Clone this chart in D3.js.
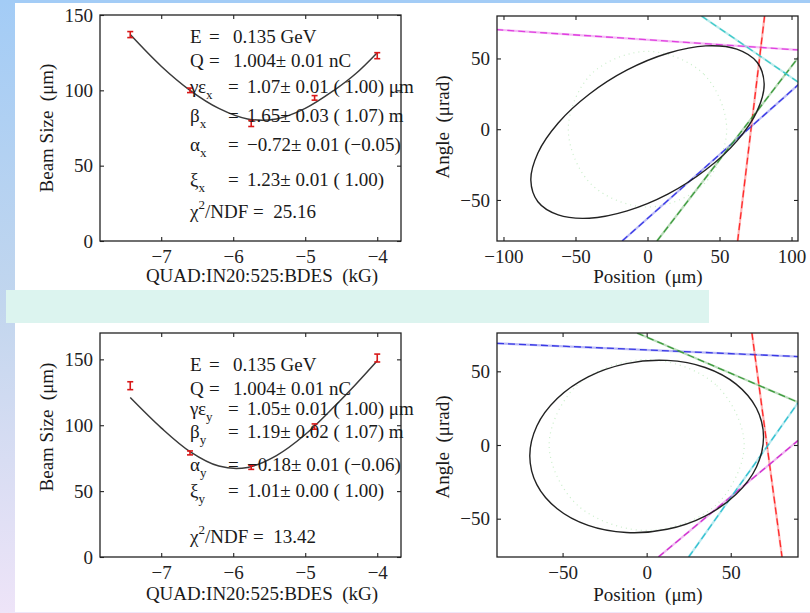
<!DOCTYPE html>
<html>
<head>
<meta charset="utf-8">
<script src="https://cdn.jsdelivr.net/npm/d3@7"></script>
<style>
body { margin: 0; background: #fff; }
svg { display: block; font-family: "Liberation Serif", "DejaVu Serif", serif; }
</style>
</head>
<body>
<svg id="chart" width="810" height="613"></svg>
<script>
// quad scan: beam size vs quad strength
const quadK = [-7.43, -6.6, -5.75, -4.87, -4.0];
const sizeX = [137, 100, 78, 95, 123];
const errX = [2, 1.5, 2, 1.5, 2];
const sizeY = [130, 79, 68, 99, 151];
const errY = [3, 1.5, 1.5, 2, 3];

// fitted curves
const fitK = [-7.43, -7.0, -6.6, -6.2, -5.8, -5.4, -5.0, -4.6, -4.3, -4.0];
const fitX = [137, 116, 100, 88, 81, 81, 88, 100, 111, 125];
const fitY = [121, 98, 80, 69, 68, 77, 93, 114, 131, 149];

// phase space ellipses (points traced round the outline)
const ellTopX = [81, 76.1, 62, 40.5, 14.1, -14.1, -40.5, -62, -76.1, -81, -76.1, -62, -40.5, -14.1, 14.1, 40.5, 62, 76.1];
const ellTopY = [32.1, 47.3, 56.6, 58.9, 53.7, 41.9, 24.7, 4.4, -16.8, -36.1, -51.3, -60.6, -62.9, -57.7, -45.9, -28.7, -8.4, 12.8];
const ellBotX = [69.5, 65.3, 53.2, 34.8, 12.1, -12.1, -34.8, -53.2, -65.3, -69.5, -65.3, -53.2, -34.8, -12.1, 12.1, 34.8, 53.2, 65.3];
const ellBotY = [5.4, 24.9, 41.3, 52.6, 57.4, 55.2, 46.2, 31.5, 12.9, -7.4, -26.9, -43.3, -54.6, -59.4, -57.2, -48.2, -33.5, -14.9];

// design ellipses (faint dotted)
const designTopX = [55, 39, 0, -39, -55, -39, 0, 39];
const designTopY = [0, 39, 55, 39, 0, -39, -55, -39];
const designBotX = [58, 41, 0, -41, -58, -41, 0, 41];
const designBotY = [0, 41, 58, 41, 0, -41, -58, -41];

// measurement lines (endpoints)
const tanTopX = [[-105, 105], [62.6, 81.3], [-17.6, 105], [6.6, 105], [37.5, 105]];
const tanTopY = [[70.4, 56], [-79, 80], [-79, 31.7], [-79, 51], [80, 33]];
const tanBotX = [[-89, 90], [62.6, 80.5], [7, 90], [25, 90], [-5.7, 90]];
const tanBotY = [[69, 60], [76, -76], [-76, 3], [-76, 28.6], [76, 29]];

// fit results text
const statsTop = [
    { sym: "E", sub: "", val: "0.135 GeV" },
    { sym: "Q", sub: "", val: "1.004± 0.01 nC" },
    { sym: "γε", sub: "x", val: "1.07± 0.01 ( 1.00) μm" },
    { sym: "β", sub: "x", val: "1.65± 0.03 ( 1.07) m" },
    { sym: "α", sub: "x", val: "−0.72± 0.01 (−0.05)" },
    { sym: "ξ", sub: "x", val: "1.23± 0.01 ( 1.00)" }
];
const statsBot = [
    { sym: "E", sub: "", val: "0.135 GeV" },
    { sym: "Q", sub: "", val: "1.004± 0.01 nC" },
    { sym: "γε", sub: "y", val: "1.05± 0.01 ( 1.00) μm" },
    { sym: "β", sub: "y", val: "1.19± 0.02 ( 1.07) m" },
    { sym: "α", sub: "y", val: "−0.18± 0.01 (−0.06)" },
    { sym: "ξ", sub: "y", val: "1.01± 0.00 ( 1.00)" }
];
const chi2Top = "25.16";
const chi2Bot = "13.42";

const xTicksK = [-7, -6, -5, -4];
const yTicksSize = [0, 50, 100, 150];

// layout / style
const fontSize = 19;
const tanTopColor = ["#e040e0", "#ff2a2a", "#3a3ae6", "#3c9a3c", "#3cc8c8"];
const tanBotColor = ["#3a3ae6", "#ff2a2a", "#d030d0", "#30c0d0", "#3c9a3c"];

const svg = d3.select("#chart");
const defs = svg.append("defs");

////////////////////////
// slide background   //
////////////////////////
let grad = defs.append("linearGradient").attr("id", "side")
    .attr("x1", 0).attr("y1", 0).attr("x2", 0).attr("y2", 1);
grad.append("stop").attr("offset", "0%").attr("stop-color", "#a3ccf6");
grad.append("stop").attr("offset", "50%").attr("stop-color", "#c2d6ee");
grad.append("stop").attr("offset", "100%").attr("stop-color", "#eee4f8");

svg.append("rect").attr("width", 810).attr("height", 613).attr("fill", "#eee6f8");
svg.append("rect").attr("width", 810).attr("height", 3).attr("fill", "#a3ccf6");
svg.append("rect").attr("width", 15).attr("height", 613).attr("fill", "url(#side)");
svg.append("rect").attr("x", 15).attr("y", 3).attr("width", 795).attr("height", 609).attr("fill", "#ffffff");
svg.append("rect").attr("x", 6).attr("y", 290).attr("width", 703).attr("height", 33).attr("fill", "#dcf4ef");

////////////////////////
// panel helper       //
////////////////////////
const intFmt = d3.format("d");

function makePanel(id, x0, x1, y0, y1, xDom, yDom, xTicks, yTicks) {
    const xScale = d3.scaleLinear().domain(xDom).range([x0, x1]);
    const yScale = d3.scaleLinear().domain(yDom).range([y1, y0]);

    defs.append("clipPath").attr("id", "clip-" + id)
        .append("rect").attr("x", x0).attr("y", y0)
        .attr("width", x1 - x0).attr("height", y1 - y0);

    const g = svg.append("g").attr("id", id);

    svg.append("g").attr("transform", "translate(0," + y1 + ")")
        .call(d3.axisBottom(xScale).tickValues(xTicks).tickFormat(intFmt)
            .tickSizeInner(-4).tickSizeOuter(0).tickPadding(8.5))
        .call(styleAxis);
    svg.append("g").attr("transform", "translate(0," + y0 + ")")
        .call(d3.axisTop(xScale).tickValues(xTicks).tickSizeInner(-4).tickSizeOuter(0).tickFormat(""))
        .call(styleAxis);
    svg.append("g").attr("transform", "translate(" + x0 + ",0)")
        .call(d3.axisLeft(yScale).tickValues(yTicks).tickFormat(intFmt)
            .tickSizeInner(-4).tickSizeOuter(0).tickPadding(7))
        .call(styleAxis);
    svg.append("g").attr("transform", "translate(" + x1 + ",0)")
        .call(d3.axisRight(yScale).tickValues(yTicks).tickSizeInner(-4).tickSizeOuter(0).tickFormat(""))
        .call(styleAxis);

    // box
    svg.append("rect").attr("x", x0).attr("y", y0)
        .attr("width", x1 - x0).attr("height", y1 - y0)
        .attr("fill", "none").attr("stroke", "#222").attr("stroke-width", 1.3);

    return { g: g, x: xScale, y: yScale, clip: "url(#clip-" + id + ")" };
}

function styleAxis(sel) {
    sel.select(".domain").remove();
    sel.selectAll(".tick line").attr("stroke", "#222").attr("stroke-width", 1.1);
    sel.selectAll(".tick text")
        .attr("fill", "#222")
        .style("font-family", "Liberation Serif, serif")
        .style("font-size", fontSize + "px");
}

////////////////////////
// beam size panels   //
////////////////////////
function drawScan(p, sizes, errs, fit) {
    const line = d3.line()
        .x((d, i) => p.x(fitK[i]))
        .y(d => p.y(d))
        .curve(d3.curveCatmullRom);
    p.g.append("path").datum(fit)
        .attr("d", line)
        .attr("fill", "none")
        .attr("stroke", "#3a3a3a")
        .attr("stroke-width", 1.5);

    const pts = p.g.selectAll(".pt").data(sizes).enter().append("g").attr("class", "pt");
    pts.append("line")
        .attr("x1", (d, i) => p.x(quadK[i])).attr("x2", (d, i) => p.x(quadK[i]))
        .attr("y1", (d, i) => p.y(d - errs[i])).attr("y2", (d, i) => p.y(d + errs[i]));
    pts.append("line")
        .attr("x1", (d, i) => p.x(quadK[i]) - 3).attr("x2", (d, i) => p.x(quadK[i]) + 3)
        .attr("y1", (d, i) => p.y(d - errs[i])).attr("y2", (d, i) => p.y(d - errs[i]));
    pts.append("line")
        .attr("x1", (d, i) => p.x(quadK[i]) - 3).attr("x2", (d, i) => p.x(quadK[i]) + 3)
        .attr("y1", (d, i) => p.y(d + errs[i])).attr("y2", (d, i) => p.y(d + errs[i]));
    pts.selectAll("line").attr("stroke", "#d81818").attr("stroke-width", 1.6);
}

function drawStats(rows, chi2, ys) {
    const t = svg.append("g").attr("fill", "#1a1a1a").style("font-size", fontSize + "px");
    rows.forEach((r, i) => {
        const txt = t.append("text").attr("x", 190).attr("y", ys[i]);
        txt.append("tspan").text(r.sym);
        if (r.sub) {
            txt.append("tspan").attr("dy", 6).style("font-size", "13px").text(r.sub);
        }
        t.append("text").attr("x", r.sub ? 228 : 209).attr("y", ys[i]).text("=");
        t.append("text").attr("x", r.sub ? 247 : 233).attr("y", ys[i]).text(r.val);
    });
    const c = t.append("text").attr("x", 190).attr("y", ys[6]).attr("xml:space", "preserve");
    c.append("tspan").text("χ");
    c.append("tspan").attr("dy", -9).style("font-size", "13px").text("2");
    c.append("tspan").attr("dy", 9).text("/NDF =  " + chi2);
}

function axisLabels(xText, xCx, xBase, yText, yBx, yCy) {
    svg.append("text")
        .attr("x", xCx).attr("y", xBase)
        .attr("text-anchor", "middle")
        .attr("fill", "#1a1a1a")
        .style("font-size", fontSize + "px")
        .attr("xml:space", "preserve")
        .text(xText);
    svg.append("text")
        .attr("transform", "translate(" + yBx + "," + yCy + ")rotate(-90)")
        .attr("text-anchor", "middle")
        .attr("fill", "#1a1a1a")
        .style("font-size", fontSize + "px")
        .attr("xml:space", "preserve")
        .text(yText);
}

////////////////////////
// phase space panels //
////////////////////////
function drawPhase(p, ex, ey, dx, dy, tx, ty, colors) {
    const layer = p.g.append("g").attr("clip-path", p.clip);

    const closed = d3.line()
        .x(d => p.x(d[0]))
        .y(d => p.y(d[1]))
        .curve(d3.curveCatmullRomClosed);

    layer.append("path").datum(dx.map((v, i) => [v, dy[i]]))
        .attr("d", closed)
        .attr("fill", "none")
        .attr("stroke", "#9ee09e")
        .attr("stroke-width", 1.2)
        .attr("stroke-dasharray", "1,4")
        .attr("opacity", 0.55);

    tx.forEach((xs, i) => {
        const pts = [[xs[0], ty[i][0]], [xs[1], ty[i][1]]];
        const l = d3.line().x(d => p.x(d[0])).y(d => p.y(d[1]));
        layer.append("path").datum(pts).attr("d", l)
            .attr("stroke", colors[i]).attr("stroke-width", 2.2).attr("opacity", 0.35).attr("fill", "none");
        layer.append("path").datum(pts).attr("d", l)
            .attr("stroke", colors[i]).attr("stroke-width", 1.3)
            .attr("stroke-dasharray", "7,4").attr("fill", "none");
    });

    layer.append("path").datum(ex.map((v, i) => [v, ey[i]]))
        .attr("d", closed)
        .attr("fill", "none")
        .attr("stroke", "#222")
        .attr("stroke-width", 1.4);
}

// top row
const pTL = makePanel("tl", 100, 401, 15, 241, [-7.85, -3.67], [0, 150], xTicksK, yTicksSize);
drawScan(pTL, sizeX, errX, fitX);
const pTR = makePanel("tr", 497, 798, 16, 241, [-104.5, 104.5], [-79, 80], [-100, -50, 0, 50, 100], [-50, 0, 50]);
drawPhase(pTR, ellTopX, ellTopY, designTopX, designTopY, tanTopX, tanTopY, tanTopColor);

// bottom row
const pBL = makePanel("bl", 100, 401, 333, 557, [-7.85, -3.67], [0, 170], xTicksK, yTicksSize);
drawScan(pBL, sizeY, errY, fitY);
const pBR = makePanel("br", 497, 798, 333, 557, [-89, 90], [-76, 76], [-50, 0, 50], [-50, 0, 50]);
drawPhase(pBR, ellBotX, ellBotY, designBotX, designBotY, tanBotX, tanBotY, tanBotColor);

// labels
axisLabels("QUAD:IN20:525:BDES  (kG)", 262, 282, "Beam Size  (μm)", 53, 128);
axisLabels("Position  (μm)", 648, 283, "Angle  (μrad)", 449, 127);
axisLabels("QUAD:IN20:525:BDES  (kG)", 262, 600, "Beam Size  (μm)", 53, 427);
axisLabels("Position  (μm)", 648, 601, "Angle  (μrad)", 449, 447);

drawStats(statsTop, chi2Top, [43, 67, 93, 122, 151, 186, 218]);
drawStats(statsBot, chi2Bot, [371, 395, 415, 438, 471, 497, 543]);
</script>
</body>
</html>
